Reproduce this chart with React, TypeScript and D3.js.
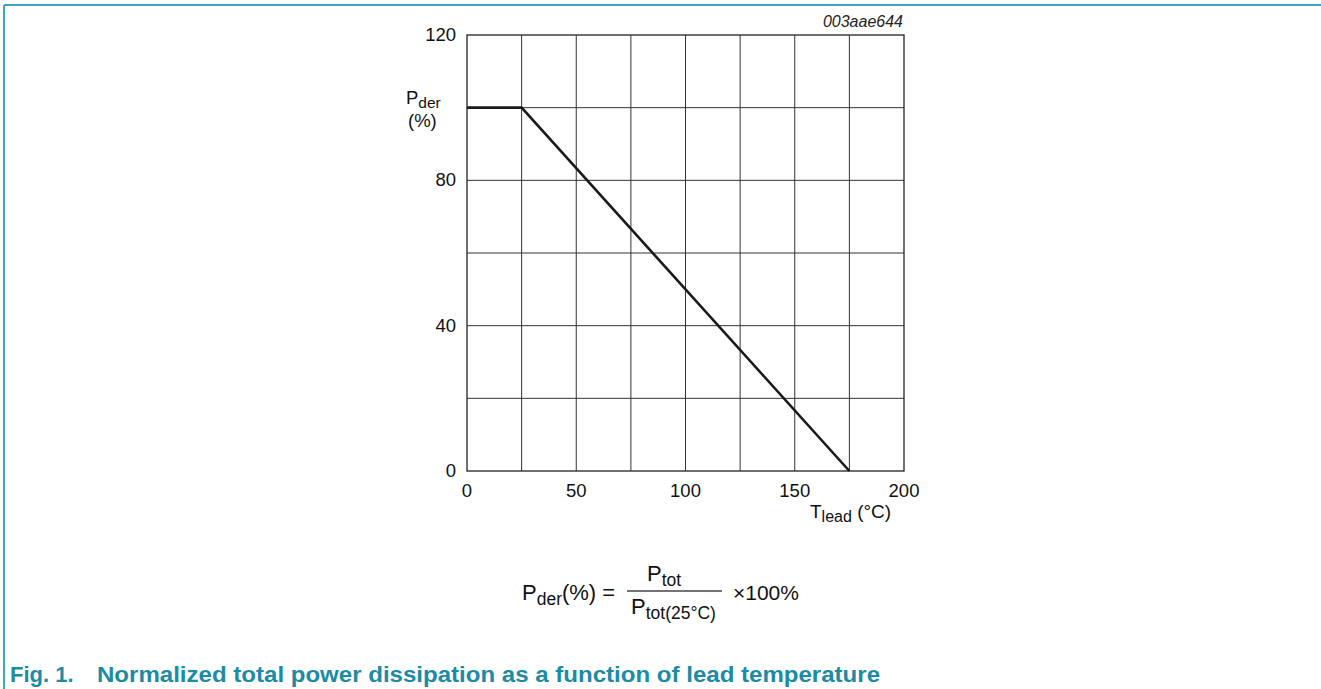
import * as d3 from 'd3';

// derating curve: lead temperature (°C) vs. Pder (%)
const tempC = [0, 25, 175];
const pderPct = [100, 100, 0];
const xTicks = [0, 50, 100, 150, 200];
const yTicks = [0, 40, 80, 120];
const xGrid = [25, 50, 75, 100, 125, 150, 175];
const yGrid = [20, 40, 60, 80, 100];

const W = 1321;
const H = 689;
const FONT = 'Liberation Sans, Arial, sans-serif';
const TEAL = '#1b8ba6';

export default function App() {
  const x = d3.scaleLinear().domain([0, 200]).range([467, 904]);
  const y = d3.scaleLinear().domain([0, 120]).range([471, 35]);

  const pts = tempC.map((t, i) => [x(t), y(pderPct[i])] as [number, number]);
  const line = d3.line()(pts) || '';

  return (
    <svg width={W} height={H} style={{ position: 'absolute', left: 0, top: 0 }} fontFamily={FONT}>
      <rect width={W} height={H} fill="#fff" />
      {/* page frame */}
      <line x1={4} x2={W} y1={5} y2={5} stroke="#3aa6c0" strokeWidth={2} />
      <line x1={4} x2={4} y1={5} y2={H} stroke="#3aa6c0" strokeWidth={2} />

      {/* grid */}
      {xGrid.map(v => (
        <line key={'gx' + v} x1={x(v)} x2={x(v)} y1={y(0)} y2={y(120)} stroke="#333" strokeWidth={1} />
      ))}
      {yGrid.map(v => (
        <line key={'gy' + v} x1={x(0)} x2={x(200)} y1={y(v)} y2={y(v)} stroke="#333" strokeWidth={1} />
      ))}
      <rect x={x(0)} y={y(120)} width={x(200) - x(0)} height={y(0) - y(120)} fill="none" stroke="#222" strokeWidth={1.3} />

      {/* data */}
      <path d={line} fill="none" stroke="#1a1a1a" strokeWidth={2.6} />

      {/* tick labels */}
      {yTicks.map(v => (
        <text key={'yt' + v} x={456} y={y(v) + 6} textAnchor="end" fontSize={18.5} fill="#111">{v}</text>
      ))}
      {xTicks.map(v => (
        <text key={'xt' + v} x={x(v)} y={497} textAnchor="middle" fontSize={18.5} fill="#111">{v}</text>
      ))}

      {/* axis titles */}
      <text x={406} y={104} fontSize={18.5} fill="#111">
        P<tspan fontSize={15.5} dy={4}>der</tspan>
      </text>
      <text x={408} y={127} fontSize={18.5} fill="#111">(%)</text>
      <text x={810} y={518} fontSize={19} fill="#111">
        T<tspan fontSize={16} dy={4}>lead</tspan><tspan dy={-4}> (°C)</tspan>
      </text>

      {/* figure code */}
      <text x={903} y={27} textAnchor="end" fontSize={16} fontStyle="italic" fill="#222">003aae644</text>

      {/* formula */}
      <text x={522} y={600} fontSize={22} fill="#111">
        P<tspan fontSize={17.5} dy={5}>der</tspan><tspan dy={-5}>(%) =</tspan>
      </text>
      <line x1={627} x2={722} y1={591} y2={591} stroke="#444" strokeWidth={1.5} />
      <text x={647} y={581} fontSize={22} fill="#111">
        P<tspan fontSize={17.5} dy={5}>tot</tspan>
      </text>
      <text x={631} y={614} fontSize={22} fill="#111">
        P<tspan fontSize={17.5} dy={5}>tot(25°C)</tspan>
      </text>
      <text x={733} y={600} fontSize={21} fill="#111">×100%</text>

      {/* caption */}
      <text x={10} y={682} fontSize={22} fontWeight="bold" fill={TEAL}>Fig. 1.</text>
      <text x={97} y={682} fontSize={22} fontWeight="bold" fill={TEAL} textLength={783} lengthAdjust="spacingAndGlyphs">
        Normalized total power dissipation as a function of lead temperature
      </text>
    </svg>
  );
}
